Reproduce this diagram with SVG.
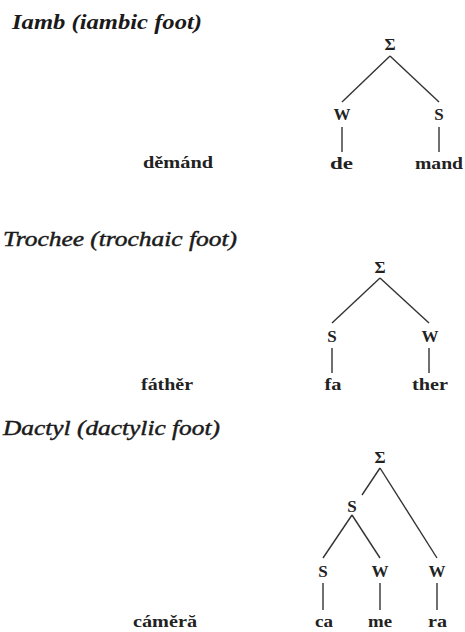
<svg xmlns="http://www.w3.org/2000/svg" width="465" height="632" viewBox="0 0 465 632">
<style>
text{font-family:'Liberation Serif','Times New Roman',Times,serif}
.t{font-style:italic;font-size:21px;fill:#1a1a1a}
.tl{stroke:#1a1a1a;stroke-width:0.45}
.n{font-weight:bold;font-size:17px;fill:#222;text-anchor:middle}
.w{font-weight:bold;font-size:16px;fill:#222}
.e{stroke:#333;stroke-width:1.4;fill:none}
</style>
<rect width="465" height="632" fill="#fff"/>
<g id="title-iamb"><text class="t" x="12" y="29" font-weight="bold" textLength="190" lengthAdjust="spacingAndGlyphs">Iamb (iambic foot)</text></g>
<g id="title-trochee"><text class="t tl" x="3" y="246" textLength="234" lengthAdjust="spacingAndGlyphs">Trochee (trochaic foot)</text></g>
<g id="title-dactyl"><text class="t tl" x="3" y="435" textLength="217" lengthAdjust="spacingAndGlyphs">Dactyl (dactylic foot)</text></g>

<g id="word-demand"><text class="w" x="143" y="168" textLength="70" lengthAdjust="spacingAndGlyphs">děmánd</text></g>
<g id="word-father"><text class="w" x="141" y="390" textLength="52" lengthAdjust="spacingAndGlyphs">fáthěr</text></g>
<g id="word-camera"><text class="w" x="133" y="627" textLength="64" lengthAdjust="spacingAndGlyphs">cáměră</text></g>

<g id="connectors">
<line class="e" x1="390" y1="56" x2="342" y2="102"/>
<line class="e" x1="390" y1="56" x2="439" y2="102"/>
<line class="e" x1="342" y1="127" x2="342" y2="152"/>
<line class="e" x1="439" y1="127" x2="439" y2="152"/>

<line class="e" x1="380" y1="278" x2="332" y2="323"/>
<line class="e" x1="380" y1="278" x2="429" y2="323"/>
<line class="e" x1="332" y1="348" x2="332" y2="373"/>
<line class="e" x1="429" y1="348" x2="429" y2="373"/>

<line class="e" x1="380" y1="468" x2="362" y2="495"/>
<line class="e" x1="380" y1="468" x2="437" y2="558"/>
<line class="e" x1="352" y1="515" x2="323" y2="558"/>
<line class="e" x1="352" y1="515" x2="380" y2="558"/>
<line class="e" x1="323" y1="583" x2="323" y2="610"/>
<line class="e" x1="380" y1="583" x2="380" y2="610"/>
<line class="e" x1="437" y1="583" x2="437" y2="610"/>
</g>

<g id="iamb-root"><text class="n" x="390" y="50">Σ</text></g>
<g id="iamb-w"><text class="n" x="342" y="120">W</text></g>
<g id="iamb-s"><text class="n" x="439" y="120">S</text></g>
<g id="iamb-de"><text class="w" x="341.5" y="169" text-anchor="middle" textLength="23" lengthAdjust="spacingAndGlyphs">de</text></g>
<g id="iamb-mand"><text class="w" x="439" y="169" text-anchor="middle" textLength="48" lengthAdjust="spacingAndGlyphs">mand</text></g>

<g id="trochee-root"><text class="n" x="380" y="273">Σ</text></g>
<g id="trochee-s"><text class="n" x="332" y="342">S</text></g>
<g id="trochee-w"><text class="n" x="430" y="342">W</text></g>
<g id="trochee-fa"><text class="w" x="333" y="390" text-anchor="middle" textLength="17" lengthAdjust="spacingAndGlyphs">fa</text></g>
<g id="trochee-ther"><text class="w" x="430" y="390" text-anchor="middle" textLength="36" lengthAdjust="spacingAndGlyphs">ther</text></g>

<g id="dactyl-root"><text class="n" x="380" y="463">Σ</text></g>
<g id="dactyl-s-mid"><text class="n" x="352" y="512">S</text></g>
<g id="dactyl-s"><text class="n" x="323" y="577">S</text></g>
<g id="dactyl-w1"><text class="n" x="380" y="577">W</text></g>
<g id="dactyl-w2"><text class="n" x="437" y="577">W</text></g>
<g id="dactyl-ca"><text class="w" x="324" y="627" text-anchor="middle" textLength="18" lengthAdjust="spacingAndGlyphs">ca</text></g>
<g id="dactyl-me"><text class="w" x="380" y="627" text-anchor="middle" textLength="24" lengthAdjust="spacingAndGlyphs">me</text></g>
<g id="dactyl-ra"><text class="w" x="437.5" y="627" text-anchor="middle" textLength="19" lengthAdjust="spacingAndGlyphs">ra</text></g>
</svg>
